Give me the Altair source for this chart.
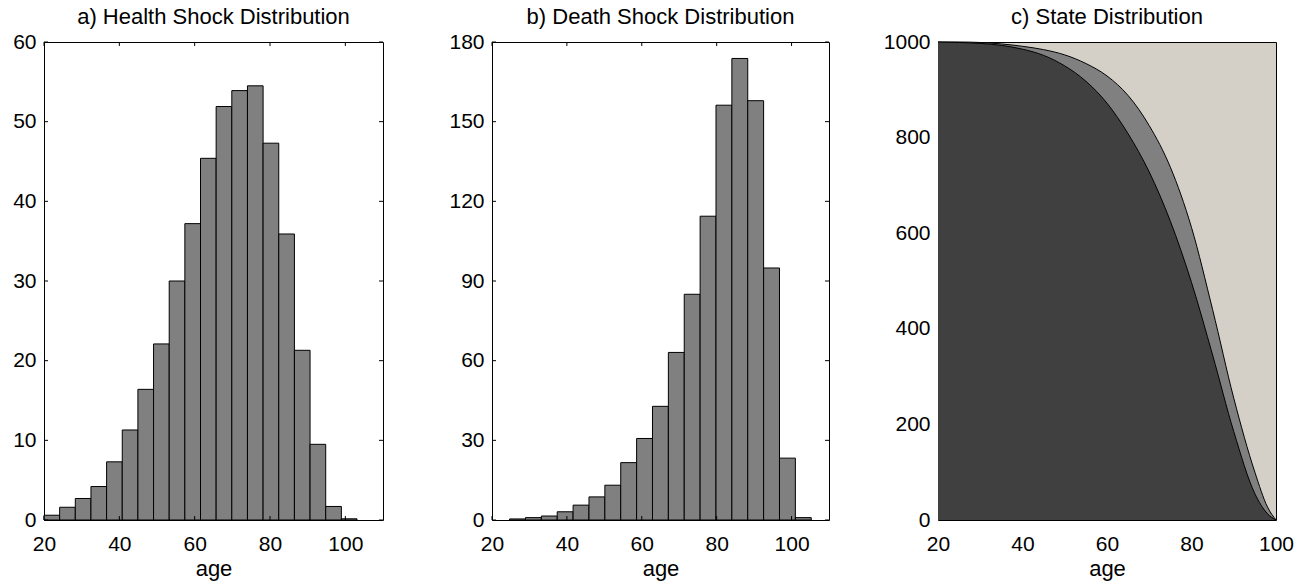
import altair as alt
import pandas as pd

FONT = "Liberation Sans"

# ---- tick values -------------------------------------------------------
age_ticks = [20, 40, 60, 80, 100]
health_ticks = [0, 10, 20, 30, 40, 50, 60]
death_ticks = [0, 30, 60, 90, 120, 150, 180]
state_ticks = [0, 200, 400, 600, 800, 1000]

# ---- a) health shock histogram ------------------------------------------
health_counts = [0.6, 1.6, 2.7, 4.2, 7.3, 11.3, 16.4, 22.1, 30.0, 37.2,
                 45.4, 51.9, 53.9, 54.5, 47.3, 35.9, 21.3, 9.5, 1.7, 0.15]
health_bin_start = 20.0
health_bin_width = 4.155

# ---- b) death shock histogram -------------------------------------------
death_counts = [0.4, 0.9, 1.5, 3.1, 5.6, 8.7, 13.1, 21.6, 30.7, 42.8,
                63.1, 85.0, 114.4, 156.2, 173.8, 157.9, 94.9, 23.3, 0.9]
death_bin_start = 24.7
death_bin_width = 4.24

# ---- c) state distribution ----------------------------------------------
state_age = [20, 25, 30, 35, 40, 45, 50, 55, 60, 65, 70, 75, 80, 85, 90, 95, 98, 100]
state_lower = [1000, 999, 997, 993, 985, 972, 950, 918, 872, 808, 728, 625, 497, 345, 185, 55, 13, 0]
state_upper = [1000, 1000, 999, 996, 991, 984, 973, 955, 929, 888, 825, 738, 612, 440, 255, 100, 27, 0]

W_A, W_B, W_C = 339, 337, 338
H = 478
TICK = 4


def bins(start, width, counts):
    lo = [start + i * width for i in range(len(counts))]
    hi = [start + (i + 1) * width for i in range(len(counts))]
    return pd.DataFrame({"lo": lo, "hi": hi, "count": counts})


def xaxis():
    return alt.Axis(values=age_ticks, title="age", labelPadding=13, titleY=55,
                    titleBaseline="alphabetic", labelFlush=False, format="d")


def yaxis(vals):
    return alt.Axis(values=vals, title=None, labelPadding=8, labelFlush=False,
                    minExtent=40, maxExtent=40, format="d")


def hist_panel(df, yticks, ymax, title, width):
    xs = alt.Scale(domain=[20, 110], nice=False, zero=False)
    ys = alt.Scale(domain=[0, ymax], nice=False)
    bars = alt.Chart(df).mark_bar(fill="#808080", stroke="black", strokeWidth=1,
                                  opacity=1).encode(
        x=alt.X("lo:Q", scale=xs, axis=xaxis()),
        x2="hi:Q",
        y=alt.Y("count:Q", scale=ys, axis=yaxis(yticks)),
        y2=alt.datum(0),
    )
    xt = pd.DataFrame({"lo": age_ticks})
    yt = pd.DataFrame({"count": yticks})
    tb = alt.Chart(xt).mark_rule(color="black", strokeWidth=1).encode(
        x=alt.X("lo:Q", scale=xs, axis=xaxis()), y=alt.value(H), y2=alt.value(H - TICK))
    tt = alt.Chart(xt).mark_rule(color="black", strokeWidth=1).encode(
        x=alt.X("lo:Q", scale=xs, axis=xaxis()), y=alt.value(0), y2=alt.value(TICK))
    tl = alt.Chart(yt).mark_rule(color="black", strokeWidth=1).encode(
        y=alt.Y("count:Q", scale=ys, axis=yaxis(yticks)), x=alt.value(0), x2=alt.value(TICK))
    tr = alt.Chart(yt).mark_rule(color="black", strokeWidth=1).encode(
        y=alt.Y("count:Q", scale=ys, axis=yaxis(yticks)), x=alt.value(width),
        x2=alt.value(width - TICK))
    return alt.layer(bars, tb, tt, tl, tr).properties(width=width, height=H, title=title)


panel_a = hist_panel(bins(health_bin_start, health_bin_width, health_counts),
                     health_ticks, 60, "a) Health Shock Distribution", W_A)
panel_b = hist_panel(bins(death_bin_start, death_bin_width, death_counts),
                     death_ticks, 180, "b) Death Shock Distribution", W_B)

state_df = pd.DataFrame({"age": state_age, "lower": state_lower, "upper": state_upper})
xs_c = alt.Scale(domain=[20, 100], nice=False, zero=False)
ys_c = alt.Scale(domain=[0, 1000], nice=False)
gray = alt.Chart(state_df).mark_area(
    color="#808080", opacity=1, fillOpacity=1, interpolate="monotone",
    line=alt.OverlayMarkDef(color="black", strokeWidth=1),
).encode(
    x=alt.X("age:Q", scale=xs_c, axis=xaxis()),
    y=alt.Y("upper:Q", scale=ys_c, axis=yaxis(state_ticks)),
)
dark = alt.Chart(state_df).mark_area(
    color="#404040", opacity=1, fillOpacity=1, interpolate="monotone",
    line=alt.OverlayMarkDef(color="black", strokeWidth=1),
).encode(
    x=alt.X("age:Q", scale=xs_c, axis=xaxis()),
    y=alt.Y("lower:Q", scale=ys_c, axis=yaxis(state_ticks)),
)
panel_c = alt.layer(gray, dark).properties(
    width=W_C, height=H, title="c) State Distribution",
    view=alt.ViewBackground(fill="#d4d0c8", stroke="black", strokeWidth=1),
)

chart = alt.hconcat(panel_a, panel_b, panel_c, spacing=109, bounds="flush").properties(
    padding={"left": 3, "top": 5, "right": 5, "bottom": 2}
).configure_view(
    stroke="black", strokeWidth=1
).configure_axis(
    labelFont=FONT, labelFontSize=21, labelColor="black",
    titleFont=FONT, titleFontSize=22, titleFontWeight="normal", titleColor="black",
    domain=False, ticks=False, tickSize=0, grid=False,
).configure_title(
    font=FONT, fontSize=22, fontWeight="normal", color="black",
    offset=2, baseline="alphabetic", anchor="middle", frame="group",
)

chart.save("out.html", embed_options={"renderer": "svg", "actions": False})
